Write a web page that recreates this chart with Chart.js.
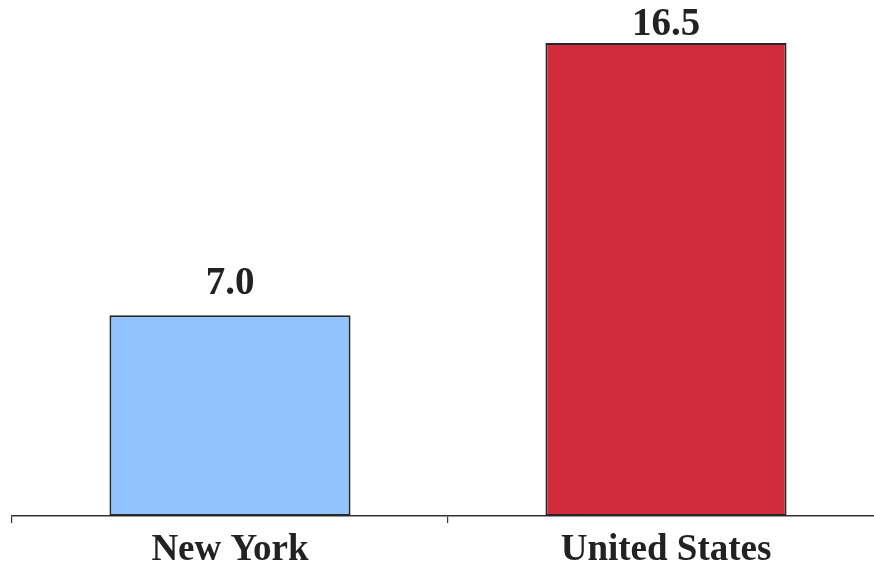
<!DOCTYPE html>
<html>
<head>
<meta charset="utf-8">
<script src="https://cdn.jsdelivr.net/npm/chart.js@4"></script>
<style>
  html, body { margin: 0; padding: 0; background: #fff; overflow: hidden; }
  #wrap { width: 884px; height: 568px; }
</style>
</head>
<body>
<div id="wrap"><canvas id="barChartID"></canvas></div>
<script>
var categories = ['New York', 'United States'];
var values = [7.0, 16.5];
var barColors = ['#90C3FF', '#D12B3D'];

// value labels above bars (kept inside the top of the canvas)
var valueLabels = {
    id: 'valueLabels',
    afterDatasetsDraw: function(chart) {
        var ctx = chart.ctx;
        var meta = chart.getDatasetMeta(0);
        ctx.save();
        ctx.font = 'bold 39px "Liberation Serif", serif';
        ctx.fillStyle = '#222';
        ctx.textAlign = 'center';
        ctx.textBaseline = 'alphabetic';
        meta.data.forEach(function(bar, i) {
            ctx.fillText(values[i].toFixed(1), bar.x, Math.max(bar.y - 21, 35));
        });
        ctx.restore();
    }
};

var myContext = document.getElementById("barChartID").getContext('2d');
var myChart = new Chart(myContext, {
    type: 'bar',
    data: {
        labels: categories,
        datasets: [{
            data: values,
            backgroundColor: barColors,
            borderColor: '#262626',
            borderWidth: 2,
            borderSkipped: false,
            barPercentage: 0.553,
            categoryPercentage: 1
        }]
    },
    options: {
        responsive: true,
        maintainAspectRatio: false,
        animation: false,
        layout: { padding: { left: 12, top: 0, right: 0, bottom: -10 } },
        plugins: {
            legend: { display: false },
            tooltip: { enabled: false }
        },
        scales: {
            x: {
                offset: true,
                grid: { offset: true, drawOnChartArea: false, drawTicks: true, tickLength: 7, color: '#333', lineWidth: 1.2 },
                border: { display: true, color: '#333', width: 1.5 },
                ticks: {
                    color: '#222',
                    padding: 9,
                    font: { family: '"Liberation Serif", serif', size: 37, weight: 'bold', lineHeight: 1 }
                }
            },
            y: {
                display: false,
                min: 0,
                max: 18
            }
        }
    },
    plugins: [valueLabels]
});
</script>
</body>
</html>
